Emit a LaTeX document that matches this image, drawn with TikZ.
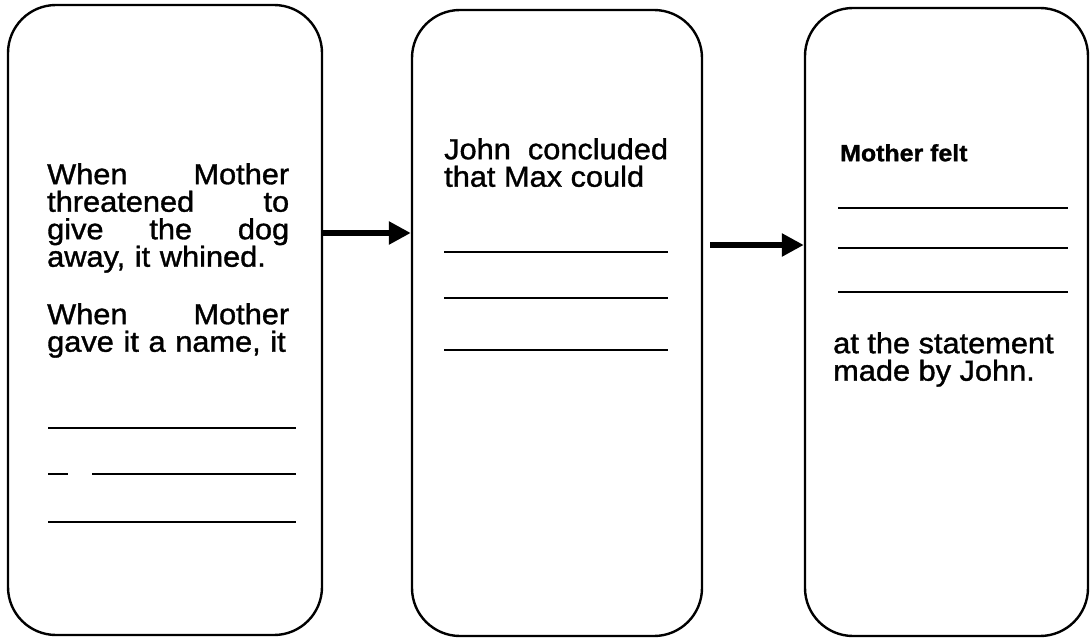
\documentclass[tikz,border=0pt]{standalone}
\usepackage{fontspec}
\setmainfont[FakeStretch=1.06, FakeBold=1.2]{Liberation Sans}
\usetikzlibrary{arrows.meta}

\begin{document}
\begin{tikzpicture}[x=1pt, y=-1pt,
  main box/.style={draw, line width=2.4pt, rounded corners=48pt, inner sep=0pt},
  story text/.style={inner sep=0pt, anchor=north west, align=left, font=\fontsize{29}{27.5}\selectfont},
  blank line/.style={line width=1.5pt},
  flow/.style={line width=5.5pt, -{Triangle[length=22pt, width=22pt]}}]
  \useasboundingbox (0,0) rectangle (1092,639);

  % three frames
  \node[main box, minimum width=314pt, minimum height=630pt] (box1) at (165,320) {};
  \node[main box, minimum width=290pt, minimum height=626pt] (box2) at (557,323) {};
  \node[main box, minimum width=283pt, minimum height=628pt] (box3) at (946.5,322) {};

  % first frame
  \node[story text, text width=242pt] (t1) at (47,163) {When \hfill Mother\\ threatened \hfill to\\ give \hfill the \hfill dog\\ away, it whined.};
  \node[story text, text width=242pt] (t2) at (47,303) {When \hfill Mother\\ \mbox{gave it a name, it}};
  \foreach \y in {428,522}
    \draw[blank line] (48,\y) -- (296,\y);
  \draw[blank line] (48,474) -- (68,474);
  \draw[blank line] (92,474) -- (296,474);

  % second frame
  \node[story text] (t3) at (444,138) {John \ concluded\\ that Max could};
  \foreach \y in {252,298,350}
    \draw[blank line] (444,\y) -- (668,\y);

  % third frame
  \node[story text, font=\fontsize{23.5}{27.5}\selectfont\bfseries] (t4) at (840,144) {Mother felt};
  \foreach \y in {208,248,292}
    \draw[blank line] (838,\y) -- (1068,\y);
  \node[story text] (t5) at (833,332) {at the statement\\ made by John.};

  % arrows
  \coordinate (a1) at (322,233);
  \coordinate (a2) at (710,245);
  \draw[flow] (a1) -- (box2.west |- a1);
  \draw[flow] (a2) -- (box3.west |- a2);
\end{tikzpicture}
\end{document}
